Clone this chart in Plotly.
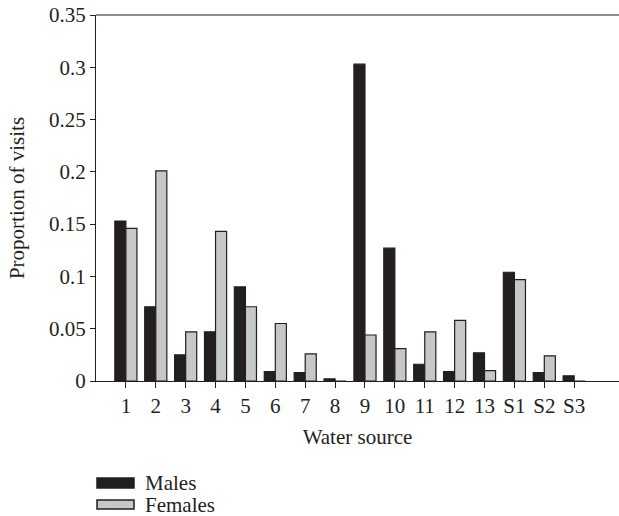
import plotly.graph_objects as go

categories = ["1", "2", "3", "4", "5", "6", "7", "8", "9", "10", "11", "12", "13", "S1", "S2", "S3"]
males = [0.153, 0.071, 0.025, 0.047, 0.090, 0.009, 0.008, 0.002, 0.303, 0.127, 0.016, 0.009, 0.027, 0.104, 0.008, 0.005]
females = [0.146, 0.201, 0.047, 0.143, 0.071, 0.055, 0.026, 0.0, 0.044, 0.031, 0.047, 0.058, 0.010, 0.097, 0.024, 0.0]
y_ticks = [0, 0.05, 0.1, 0.15, 0.2, 0.25, 0.3, 0.35]
y_tick_labels = ["0", "0.05", "0.1", "0.15", "0.2", "0.25", "0.3", "0.35"]

FONT = "Liberation Serif"
FS = 21
INK = "#231f20"

W, H = 619, 516
L, R, T, B = 96, 0, 15, 135

fig = go.Figure()
fig.add_trace(go.Bar(x=categories, y=males, name="Males",
                     marker=dict(color=INK, line=dict(color=INK, width=1.2)),
                     showlegend=False))
fig.add_trace(go.Bar(x=categories, y=females, name="Females",
                     marker=dict(color="#c6c7c8", line=dict(color=INK, width=1.2)),
                     showlegend=False))

fig.update_layout(
    width=W, height=H,
    margin=dict(l=L, r=R, t=T, b=B),
    paper_bgcolor="white", plot_bgcolor="white",
    barmode="group", bargap=0.26, bargroupgap=0,
    font=dict(family=FONT, size=FS, color=INK),
    xaxis=dict(
        type="category", range=[-1, 16.5],
        showline=True, linecolor=INK, linewidth=1.2,
        ticks="outside", ticklen=6, tickcolor=INK, tickwidth=1,
        showgrid=False, zeroline=False,
        title=dict(text="Water source", font=dict(family=FONT, size=FS), standoff=12),
        tickfont=dict(family=FONT, size=FS),
    ),
    yaxis=dict(
        range=[0, 0.35], tickvals=y_ticks, ticktext=y_tick_labels,
        showline=True, linecolor=INK, linewidth=1.2,
        ticks="outside", ticklen=5, tickcolor=INK, tickwidth=1,
        showgrid=False, zeroline=False, ticklabeloverflow="allow",
        title=dict(text="Proportion of visits", font=dict(family=FONT, size=FS), standoff=18),
        tickfont=dict(family=FONT, size=FS),
    ),
)

# top border line of the plot area
fig.add_shape(type="line", xref="paper", yref="paper", x0=0, x1=1, y0=1, y1=1,
              line=dict(color=INK, width=1.2))

# custom legend with wide swatches (pixel positions -> paper coords)
def px_to_paper_x(px):
    return (px - L) / float(W - L - R)

def px_to_paper_y(py):
    return (H - B - py) / float(H - T - B)

legend_items = [("Males", INK, 478, 488), ("Females", "#c6c7c8", 500, 509)]
for name, col, ytop, ybot in legend_items:
    fig.add_shape(type="rect", xref="paper", yref="paper",
                  x0=px_to_paper_x(97), x1=px_to_paper_x(134),
                  y0=px_to_paper_y(ybot), y1=px_to_paper_y(ytop),
                  fillcolor=col, line=dict(color=INK, width=1.5))
    fig.add_annotation(xref="paper", yref="paper", x=px_to_paper_x(143),
                       y=px_to_paper_y((ytop + ybot) / 2), text=name,
                       showarrow=False, xanchor="left", yanchor="middle",
                       font=dict(family=FONT, size=FS, color=INK))

fig.write_html("out.html", config={"displayModeBar": False},
               post_script="document.body.style.margin='0px';document.body.style.overflow='hidden';")
